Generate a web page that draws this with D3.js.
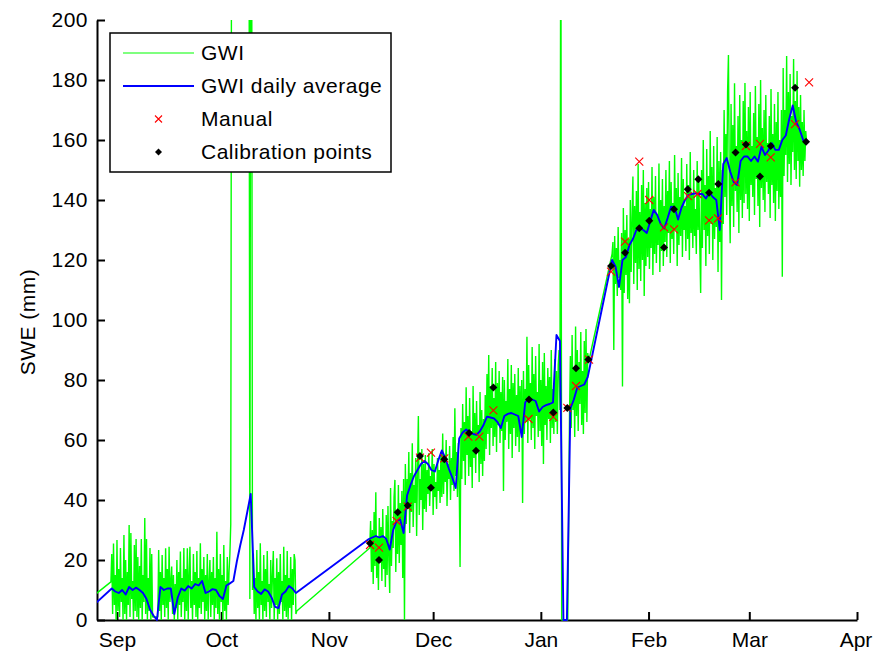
<!DOCTYPE html>
<html>
<head>
<meta charset="utf-8">
<script src="https://cdn.jsdelivr.net/npm/d3@7"></script>
<style>
  body { margin: 0; background: #fff; }
  svg text { font-family: "Liberation Sans", Arial, Helvetica, sans-serif; fill: #000; }
  .wide { letter-spacing: 0.5px; }
</style>
</head>
<body>
<svg id="chart" width="873" height="652"></svg>
<script>
// ---------------------------------------------------------------
// Snow water equivalent, winter 2011/12
// ---------------------------------------------------------------

// Month ticks on the time axis
const monthStarts = ["2011-09-01", "2011-10-01", "2011-11-01", "2011-12-01",
                     "2012-01-01", "2012-02-01", "2012-03-01", "2012-04-01"];
const monthLabels = ["Sep", "Oct", "Nov", "Dec", "Jan", "Feb", "Mar", "Apr"];
const sweTicks = [0, 20, 40, 60, 80, 100, 120, 140, 160, 180, 200];

// GWI record (mm), one reading every 6 h, stored as separate logging runs
const gwiRunStart = ["2011-08-25T12:00", "2011-08-30T06:00", "2011-09-12T18:00",
                     "2011-11-12T18:00", "2012-01-21T12:00"];
const gwiRun0 = [8.3];
const gwiRun1 = [12.7, 22, 2, 25.5, 5, 15, 0, 26.7, 3, 17, 1, 24, 6, 14, 0, 28.3, 2, 20, 0, 16,
                 5, 31.7, 1, 29, 7, 13, 0, 25, 3, 27, 1, 21, 0, 18, 4, 27, 0, 15, 6, 34,
                 2, 27, 0, 14, 3, 24, 0, 22, 1];
const gwiRun2 = [1, 23.3, 3, 16, 0, 21.7, 5, 14, 1, 23.9, 4, 17, 0, 24.4, 6, 13, 17.8, 2, 15, 0,
                 12, 4, 20, 0, 16, 5, 22.8, 1, 14, 6, 24, 0, 17, 3, 23.9, 0, 15, 24.4, 4, 13,
                 0, 22, 5, 16, 1, 23, 0, 14, 4, 25.6, 2, 17, 6, 21, 0, 15, 3, 22, 0, 13,
                 20, 1, 16, 5, 21, 0, 14, 4, 29.4, 2, 17, 0, 22, 6, 15, 0, 25, 3, 13, 0,
                 21, 5, 16, 22,
                 32, 260, 260, 260, 260, 260, 260, 260, 260, 260, 260, 260, 260, 260, 260, 260, 260, 260, 260, 260, 260, 260,
                 7, 260, 260, 10,
                 22.2, 2, 14, 0, 23.3, 4, 16, 0, 25.6, 5, 13, 0, 21.7, 3, 17, 1, 23, 6, 12, 0,
                 20, 4, 15, 23, 0, 14, 5, 20.6, 0, 16, 2, 22, 6, 13, 0, 24.4, 3, 15, 1, 23,
                 0, 14, 4, 21, 0, 17, 5, 22, 20, 2, 3];
const gwiRun3 = [24,
                 33, 16, 30, 12, 36, 18, 42.6, 14, 28, 10, 34, 19, 31, 13, 37, 17, 27, 11, 35, 15,
                 38, 20, 9, 44, 18, 33, 24, 41, 46.7, 16, 36, 22, 45, 19, 39, 25, 43, 14, 47,
                 0,
                 52, 32, 47, 38, 56, 29, 49, 36, 58.9, 31, 45, 39, 54, 28, 50, 68, 35, 47, 40, 57,
                 30, 52, 37, 55,
                 36, 50, 42, 55.6, 38, 48, 44, 57, 35, 52, 41, 46, 37, 54, 43, 50, 39, 56, 41,
                 62.2, 42, 55, 46, 60, 38, 52, 47, 58, 40, 54, 45, 61, 43, 70.6, 48, 56, 41, 59, 46,
                 17.7,
                 64, 47, 72, 53, 66, 45, 77.6, 55, 68, 48, 74, 51, 63, 44, 78, 54, 69, 49, 73, 56,
                 65, 46, 76, 52, 70, 48, 67, 53,
                 75, 57, 82, 62, 88.3, 55, 78, 64, 84, 58, 74, 61, 86, 56, 79, 65, 83, 59, 76, 63,
                 81, 43, 80, 60, 73, 66, 87, 57, 77, 62, 85, 54, 79, 64, 82, 58, 75, 61, 84, 56,
                 78, 63, 80,
                 39,
                 83, 62, 77, 66, 94.4, 59, 85, 67, 79, 60, 91, 64, 82, 57, 88, 68, 76, 61, 92, 63,
                 80, 58, 86, 52, 89, 65, 78, 60, 84, 67, 81, 59, 90, 64, 77, 62, 87, 66, 83,
                 62, 85, 90, 70, 260, 0, 0, 0, 0, 0, 0, 0, 0, 30, 68,
                 88, 64, 95, 70, 84, 61, 97.8, 68, 90, 63, 86, 72, 96, 65, 83, 62, 93, 69, 97, 66,
                 89, 86];
const gwiRun4 = [122,
                 126, 90, 128, 112, 124, 108, 131, 114, 120, 110, 129,
                 77.8,
                 137.3, 109, 130, 115, 135, 107, 127,
                 105.6,
                 140, 116, 134, 147.8, 112, 138, 119, 143, 110, 152, 117, 136, 113, 145, 120, 150, 108, 139, 118, 144,
                 121, 146, 117, 137, 124, 151, 115, 141, 122, 148, 119, 135, 125, 152.2, 116, 140, 123, 147, 118, 138,
                 126, 150, 121, 143, 129, 153, 119, 146, 127, 139, 122, 155, 130, 144, 118, 149, 125, 141, 128, 154,
                 121, 147, 130, 138, 123, 152, 127, 145, 120, 156, 129, 142, 124, 150, 128, 137, 122, 153, 130, 146,
                 125,
                 109,
                 150, 124, 160, 130, 145, 118, 157, 128, 148, 122, 163, 132, 151, 120, 158, 127, 144, 131, 161, 116,
                 153, 126, 156,
                 106.7,
                 150, 132, 170, 141, 162, 135, 176, 188.3, 144, 125.6, 172, 138, 165, 131, 178.9, 143, 158, 136, 168, 129,
                 175, 140, 160, 134, 173, 139,
                 179, 142, 163, 137, 171, 133, 176, 145, 158, 141, 169, 135, 178, 147, 161, 138, 172, 131, 180, 144,
                 164, 140, 170, 136, 175, 146, 159, 142, 168, 134, 177, 145, 162, 139, 172, 133, 166, 143, 176, 137,
                 160, 141, 170,
                 114.4,
                 184, 148, 170, 155, 188, 146, 176, 152, 182, 145, 168, 156, 187, 150, 173, 147, 183, 153, 171,
                 144.4,
                 175, 150, 166, 148, 170, 153, 163, 159];

// GWI daily average (mm), one value per day at noon
const dailyRunStart = ["2011-08-25T12:00", "2011-08-30T12:00", "2011-11-12T12:00", "2012-01-21T12:00"];
const dailyRun0 = [5.2];
const dailyRun1 = [10.5, 9.5, 9, 10, 8.5, 11, 10, 10.8, 10, 9, 7, 3.5, 1.5, 0, 11, 10, 10.5, 10.5, 2, 7.5,
                   10.5, 9.8, 11.3, 10.5, 12, 11.5, 13, 9, 9.5, 10.3, 10, 8, 7, 11.5, 12.2, 13, 19.5, 25, 30, 36,
                   42, 11, 9.5, 8.7, 10.2, 9.5, 7.5, 4.4, 4, 8.5, 9.5, 11.3, 10.5, 9];
const dailyRun2 = [27, 27.5, 28, 27.5, 28, 27, 23.5, 30, 33, 33.5, 29, 41.5, 45, 48, 50, 52, 53, 52, 50, 49.5,
                   53.3, 56.5, 54, 50.5, 47.5, 44, 60.5, 62.5, 63.5, 62.5, 62, 61.7, 63, 65, 67.8, 67.5, 67.2, 66, 64, 68,
                   68.7, 69, 68.5, 68, 61, 72.5, 74, 73.5, 73, 69.5, 71, 71.6, 72, 72.5, 95, 93, 0, 0, 70.5, 73.5,
                   77.5, 78, 78.5, 81];
const dailyRun3 = [120, 117.8, 111, 120, 121, 125, 127, 130, 130.5, 130, 129, 133, 136.7, 135, 132, 130.5, 134, 137.8, 137.5, 133.5,
                   137.5, 140, 141.7, 142, 142.2, 142, 142, 140.5, 142.5, 141, 140, 130, 152, 154, 149.5, 146, 145, 153, 154.5, 154.5,
                   153, 154.5, 152.8, 157.8, 155, 156.5, 158.9, 156.7, 156.7, 160, 161.5, 167, 171.5, 166, 163.5, 160, 158.9];

// Manual snow-course measurements
const manualDates = ["2011-11-12T20:00", "2011-11-15T10:00", "2011-11-20T12:00", "2011-11-23T16:00", "2011-11-27T05:00",
                     "2011-11-30T09:00", "2011-12-04T05:00", "2011-12-11T03:00", "2011-12-14T07:00", "2011-12-18T08:00",
                     "2011-12-28T11:00", "2012-01-04T14:00", "2012-01-08T15:00", "2012-01-11T03:00", "2012-01-14T21:00",
                     "2012-01-21T05:00", "2012-01-25T06:00", "2012-01-29T08:00", "2012-02-01T05:00", "2012-02-05T11:00",
                     "2012-02-08T08:00", "2012-02-12T09:00", "2012-02-15T02:00", "2012-02-18T10:00", "2012-02-21T00:00",
                     "2012-02-26T01:00", "2012-02-29T01:00", "2012-03-04T02:00", "2012-03-07T04:00", "2012-03-14T04:00",
                     "2012-03-18T05:00"];
const manualSWE = [25, 24.1, 33, 37.8, 54.1, 55.8, 53.9, 61.1, 61.1, 69.9,
                   67, 67.7, 70.7, 78, 86.8, 116.1, 126.1, 152.8, 140, 130.9,
                   130.2, 141.3, 142, 133.2, 133.9, 145.9, 158, 158.7, 154.2, 165.3,
                   179.2];

// Calibration points
const calDates = ["2011-11-12T20:00", "2011-11-15T10:00", "2011-11-20T19:00", "2011-11-23T16:00", "2011-11-27T05:00",
                  "2011-11-30T09:00", "2011-12-04T05:00", "2011-12-11T08:00", "2011-12-13T08:00", "2011-12-18T08:00",
                  "2011-12-28T14:00", "2012-01-04T14:00", "2012-01-08T15:00", "2012-01-11T03:00", "2012-01-14T16:00",
                  "2012-01-21T05:00", "2012-01-25T06:00", "2012-01-29T08:00", "2012-02-01T05:00", "2012-02-05T11:00",
                  "2012-02-08T08:00", "2012-02-12T07:00", "2012-02-15T08:00", "2012-02-18T10:00", "2012-02-21T02:00",
                  "2012-02-26T01:00", "2012-02-29T01:00", "2012-03-04T02:00", "2012-03-07T04:00", "2012-03-14T04:00",
                  "2012-03-17T08:00"];
const calSWE = [25.6, 20, 35.9, 38.2, 54.7, 44.1, 53.6, 62.3, 56.4, 77.5,
                73.5, 69.2, 70.7, 83.9, 86.8, 118, 122.4, 130.6, 133.1, 124.2,
                136.9, 143.6, 146.9, 142.4, 145.3, 155.8, 158.5, 147.8, 158, 177.4,
                159.4];

const legendLabels = ["GWI", "GWI daily average", "Manual", "Calibration points"];

// ---------------------------------------------------------------
const HOUR = 3600e3;
const utc = s => new Date(s.length === 10 ? s + "T00:00Z" : s + "Z");

// Expand a run of equally spaced readings into {t, v} records
function expand(start, stepHours, values) {
  const t0 = utc(start).getTime();
  return values.map((v, i) => ({ t: new Date(t0 + i * stepHours * HOUR), v }));
}

const gwi = [gwiRun0, gwiRun1, gwiRun2, gwiRun3, gwiRun4]
  .flatMap((run, i) => expand(gwiRunStart[i], 6, run));
const daily = [dailyRun0, dailyRun1, dailyRun2, dailyRun3]
  .flatMap((run, i) => expand(dailyRunStart[i], 24, run));
const manual = manualDates.map((d, i) => ({ t: utc(d), v: manualSWE[i] }));
const calib = calDates.map((d, i) => ({ t: utc(d), v: calSWE[i] }));

// ---------------------------------------------------------------
const plot = { left: 97, right: 857, top: 20, bottom: 620 };
const GREEN = "#00ff00", BLUE = "#0000ff", RED = "#ff0000";
const FONT = 21;

const svg = d3.select("#chart");

const x = d3.scaleUtc()
  .domain([utc("2011-08-26T06:00"), utc("2012-04-01")])
  .range([plot.left, plot.right]);
const y = d3.scaleLinear().domain([0, 200]).range([plot.bottom, plot.top]);

// Axes (drawn first, data is painted over them)
const xAxis = svg.append("g")
  .attr("transform", `translate(0,${plot.bottom})`)
  .call(d3.axisBottom(x)
    .tickValues(monthStarts.map(utc))
    .tickFormat((d, i) => monthLabels[i])
    .tickSizeInner(-8).tickSizeOuter(0).tickPadding(12));

const yAxis = svg.append("g")
  .attr("transform", `translate(${plot.left},0)`)
  .call(d3.axisLeft(y)
    .tickValues(sweTicks)
    .tickFormat(d3.format("d"))
    .tickSizeInner(-8).tickSizeOuter(0).tickPadding(9));

[xAxis, yAxis].forEach(g => {
  g.attr("font-family", null).attr("font-size", null);
  g.select(".domain").attr("stroke", "#000").attr("stroke-width", 2);
  g.selectAll(".tick line").attr("stroke", "#000").attr("stroke-width", 2);
  g.selectAll(".tick text").attr("font-size", FONT).attr("fill", "#000");
});
yAxis.selectAll(".tick text").attr("class", "wide");
// keep the last month label inside the canvas
xAxis.selectAll(".tick text").filter((d, i) => i === monthLabels.length - 1).attr("dx", -1.5);

svg.append("text")
  .attr("class", "wide")
  .attr("transform", `translate(28,${(plot.top + plot.bottom) / 2 + 2}) rotate(-90)`)
  .attr("text-anchor", "middle")
  .attr("dy", "0.35em")
  .attr("font-size", FONT)
  .text("SWE (mm)");

// Data area
svg.append("clipPath").attr("id", "plot-clip")
  .append("rect")
  .attr("x", plot.left).attr("y", plot.top)
  .attr("width", plot.right - plot.left + 1)
  .attr("height", plot.bottom - plot.top + 2);

const data = svg.append("g").attr("clip-path", "url(#plot-clip)");

const line = d3.line().x(d => x(d.t)).y(d => y(d.v));

data.append("path")
  .datum(gwi)
  .attr("d", line)
  .attr("fill", "none")
  .attr("stroke", GREEN)
  .attr("stroke-width", 1.4)
  .attr("stroke-linejoin", "bevel");

data.append("path")
  .datum(daily)
  .attr("d", line)
  .attr("fill", "none")
  .attr("stroke", BLUE)
  .attr("stroke-width", 1.9)
  .attr("stroke-linejoin", "round");

const crossPath = r => `M${-r},${-r}L${r},${r}M${-r},${r}L${r},${-r}`;
const diamondPath = r => `M0,${-r}L${r},0L0,${r}L${-r},0Z`;

data.append("g").selectAll("path")
  .data(manual).join("path")
  .attr("transform", d => `translate(${x(d.t)},${y(d.v)})`)
  .attr("d", crossPath(4))
  .attr("fill", "none")
  .attr("stroke", RED)
  .attr("stroke-width", 1.1);

data.append("g").selectAll("path")
  .data(calib).join("path")
  .attr("transform", d => `translate(${x(d.t)},${y(d.v)})`)
  .attr("d", diamondPath(4))
  .attr("fill", "#000");

// Legend
const lg = { x: 110, y: 33, w: 281, h: 139, rowY: [53, 86, 119, 152], sample: [123, 194], text: 201 };
const legend = svg.append("g");
legend.append("rect")
  .attr("x", lg.x).attr("y", lg.y).attr("width", lg.w).attr("height", lg.h)
  .attr("fill", "#fff").attr("stroke", "#000").attr("stroke-width", 1.5);

legend.append("line")
  .attr("x1", lg.sample[0]).attr("x2", lg.sample[1])
  .attr("y1", lg.rowY[0]).attr("y2", lg.rowY[0])
  .attr("stroke", GREEN).attr("stroke-width", 1.2);
legend.append("line")
  .attr("x1", lg.sample[0]).attr("x2", lg.sample[1])
  .attr("y1", lg.rowY[1]).attr("y2", lg.rowY[1])
  .attr("stroke", BLUE).attr("stroke-width", 1.8);
const mid = (lg.sample[0] + lg.sample[1]) / 2;
legend.append("path")
  .attr("transform", `translate(${mid},${lg.rowY[2]})`)
  .attr("d", crossPath(3.5)).attr("fill", "none").attr("stroke", RED).attr("stroke-width", 1.1);
legend.append("path")
  .attr("transform", `translate(${mid},${lg.rowY[3]})`)
  .attr("d", diamondPath(3.5)).attr("fill", "#000");

legend.selectAll("text.label")
  .data(legendLabels).join("text")
  .attr("class", "label wide")
  .attr("x", lg.text)
  .attr("y", (d, i) => lg.rowY[i])
  .attr("dy", "0.35em")
  .attr("font-size", FONT)
  .text(d => d);
</script>
</body>
</html>
